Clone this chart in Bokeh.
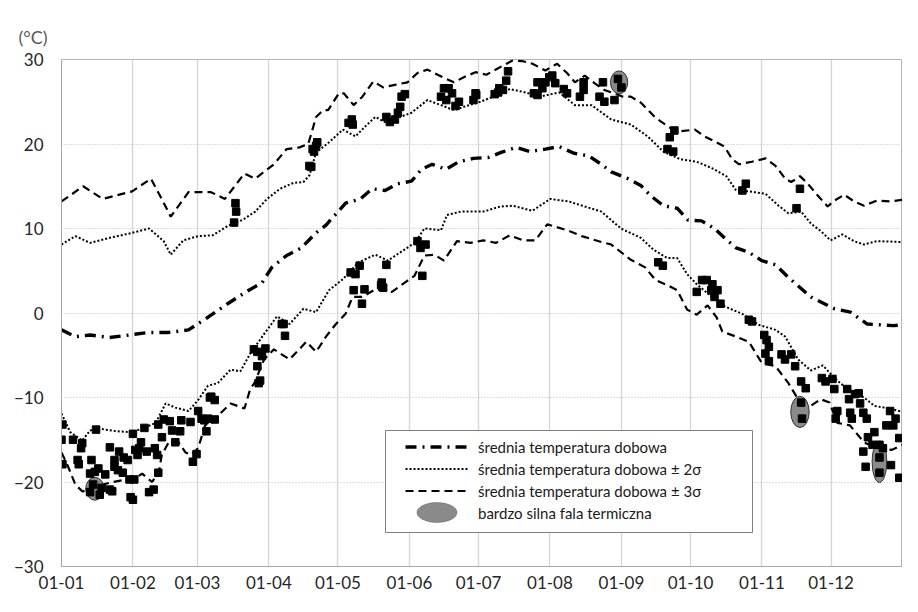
import numpy as np
from bokeh.plotting import figure
from bokeh.models import (Range1d, FixedTicker, Legend, LegendItem,
                          BoxAnnotation, PolyAnnotation)
from bokeh.embed import file_html
from bokeh.resources import INLINE

FONT = "Lato"

# ---- axis ticks ----
month_starts = [0, 31, 59, 90, 120, 151, 181, 212, 243, 273, 304, 334]
month_labels = ["01-01", "01-02", "01-03", "01-04", "01-05", "01-06",
                "01-07", "01-08", "01-09", "01-10", "01-11", "01-12"]
y_ticks = [-30, -20, -10, 0, 10, 20, 30]

# ---- mean daily temperature ----
mean_day = [0, 6.0, 12.4, 20.9, 29.4, 38.0, 46.5, 55.1, 63.6, 72.1, 80.7, 87.1, 91.3, 97.7, 104.1,
            110.5, 114.8, 123.3, 129.7, 134.8, 140.4, 145.9, 151.9, 156.2, 160.9, 166.9, 172.4,
            178.8, 185.2, 190.8, 197.2, 203.2, 210.0, 216.0, 222.4, 228.8, 234.3, 238.6, 245.8,
            251.4, 255.6, 261.2, 267.2, 271.9, 277.8, 283.4, 287.7, 292.8, 298.3, 303.9, 309.9,
            315.5, 325.2, 335.5, 342.4, 349.6, 361.1, 365]
mean_val = [-2.0, -2.8, -2.6, -2.9, -2.6, -2.3, -2.3, -2.0, -0.5, 1.1, 2.6, 3.6, 5.4, 6.8, 7.7,
            9.5, 10.4, 13.0, 13.5, 14.7, 14.5, 15.3, 15.6, 17.0, 17.6, 17.0, 17.9,
            18.3, 18.4, 19.0, 19.6, 19.1, 19.4, 19.7, 18.9, 18.6, 17.6, 16.7, 15.9,
            15.1, 13.9, 12.7, 12.4, 11.0, 10.9, 10.0, 8.9, 7.7, 7.2, 6.2, 5.7,
            4.2, 1.9, 0.5, 0.1, -1.3, -1.5, -1.4]

# ---- mean + 2 sigma ----
up2_day = [0, 6.0, 12.4, 20.9, 29.4, 38.0, 44.4, 47.4, 52.9, 59.3, 65.7, 72.1, 78.5, 84.1, 89.2,
           94.8, 100.7, 105.0, 107.6, 110.5, 116.1, 122.1, 127.6, 131.9, 136.2, 140.4, 146.0,
           151.9, 158.8, 164.7, 170.3, 175.8, 181.8, 187.4, 194.6, 201.5, 207.4, 216.0, 222.8,
           230.0, 238.6, 247.1, 254.4, 261.2, 268.5, 275.7, 282.6, 288.5, 292.8, 298.3, 305.6,
           311.2, 315.5, 321.0, 325.2, 329.5, 333.8, 338.9, 344.0, 348.3, 353.8, 365]
up2_val = [8.1, 9.1, 8.3, 8.9, 9.4, 10.0, 8.5, 6.9, 8.6, 9.1, 9.2, 10.3, 11.0, 12.0, 13.5,
           14.7, 15.4, 15.5, 16.3, 19.0, 20.2, 21.7, 20.9, 22.1, 23.2, 22.6, 23.1,
           23.7, 25.2, 24.6, 24.0, 24.5, 25.0, 25.6, 26.5, 26.1, 25.6, 26.1, 24.6,
           24.6, 22.9, 22.3, 20.9, 19.1, 18.2, 17.9, 17.1, 16.2, 14.5, 14.4, 14.1,
           12.7, 11.8, 12.0, 10.6, 9.7, 8.6, 9.3, 8.5, 8.1, 8.5, 8.4]

# ---- mean - 2 sigma ----
lo2_day = [0, 3.8, 9.0, 12.4, 16.6, 23.9, 30.7, 36.7, 40.9, 45.2, 49.4, 55.1, 59.3, 63.6, 67.8,
           73.4, 77.6, 81.9, 87.9, 93.5, 99.0, 105.0, 110.5, 116.1, 122.1, 128.9, 136.2, 141.7,
           147.7, 153.3, 157.5, 164.7, 167.3, 173.3, 183.1, 190.4, 195.9, 204.4, 212.1, 220.2,
           227.1, 234.3, 242.8, 251.4, 256.9, 262.9, 267.2, 271.5, 275.7, 286.8, 295.4, 302.6,
           309.9, 314.1, 319.7, 325.2, 330.4, 335.5, 341.0, 348.3, 352.9, 359.4, 365]
lo2_val = [-11.9, -14.1, -15.1, -13.9, -13.7, -14.0, -14.1, -13.5, -13.0, -10.7, -11.2, -11.6, -10.3, -8.6, -8.3,
           -6.7, -6.9, -4.8, -2.5, -0.4, -1.3, 0.5, 0.1, 2.7, 4.0, 6.0, 6.9, 6.2,
           7.3, 8.3, 10.0, 9.8, 11.6, 12.0, 12.0, 12.6, 12.7, 12.1, 13.5, 13.2,
           12.6, 12.0, 10.0, 8.9, 7.5, 6.5, 6.5, 4.6, 3.4, 0.9, -0.1, -1.4,
           -2.0, -2.8, -5.5, -6.8, -6.2, -7.7, -9.0, -10.0, -11.0, -11.3, -11.7]

# ---- mean + 3 sigma ----
up3_day = [0, 9.4, 17.9, 30.7, 38.8, 43.5, 47.4, 55.1, 64.9, 70.9, 79.4, 84.1, 92.2, 97.7, 103.3,
           107.1, 110.5, 113.5, 115.7, 120.4, 122.5, 126.8, 130.6, 135.3, 139.6, 144.7, 150.2,
           154.5, 158.8, 163.9, 170.3, 174.6, 179.7, 184.4, 190.4, 195.9, 200.2, 204.4, 210.0,
           215.1, 219.4, 222.8, 227.1, 231.3, 235.6, 243.7, 247.1, 251.4, 257.8, 264.2, 268.5,
           274.9, 279.1, 284.3, 287.7, 291.1, 294.1, 299.6, 305.6, 309.9, 314.1, 316.7, 320.5,
           323.9, 328.2, 332.5, 335.5, 339.7, 344.0, 348.3, 353.8, 359.4, 365]
up3_val = [13.2, 15.0, 13.5, 14.4, 15.9, 13.5, 11.4, 14.3, 14.3, 13.5, 16.5, 15.9, 17.6, 19.4, 19.6,
           20.0, 23.2, 24.0, 24.0, 26.0, 26.0, 24.6, 25.6, 27.4, 26.7, 27.0, 27.3,
           28.4, 28.8, 28.1, 27.3, 27.9, 28.5, 28.2, 29.1, 29.9, 29.8, 29.5, 28.7,
           29.5, 28.4, 27.3, 28.1, 27.2, 26.4, 25.6, 25.6, 24.9, 23.1, 21.9, 21.5,
           21.7, 20.9, 20.2, 19.7, 18.2, 17.6, 17.9, 18.3, 17.4, 15.9, 15.5, 16.2,
           15.3, 13.9, 12.6, 13.3, 14.0, 13.2, 12.7, 13.3, 13.2, 13.4]

# ---- mean - 3 sigma ----
lo3_day = [0, 2.6, 6.0, 9.0, 13.2, 17.9, 22.2, 28.2, 32.4, 35.0, 39.3, 42.3, 43.5, 46.5, 50.8,
           53.8, 56.3, 59.3, 62.3, 66.6, 73.4, 79.4, 81.9, 83.7, 87.9, 92.2, 99.0, 106.3, 110.5,
           114.8, 119.1, 123.3, 126.3, 130.6, 136.2, 143.4, 149.0, 153.2, 157.5, 161.8, 166.0,
           171.6, 177.6, 183.1, 188.6, 194.6, 200.2, 205.7, 210.8, 219.4, 225.8, 234.3, 238.6,
           247.1, 253.3, 257.8, 262.9, 267.2, 271.5, 275.7, 280.4, 284.3, 286.8, 292.8, 298.3,
           303.9, 309.9, 315.5, 318.8, 325.2, 329.5, 333.3, 336.7, 342.2, 348.3, 353.8, 360.2, 365]
lo3_val = [-16.5, -18.0, -20.3, -21.1, -21.0, -20.3, -20.0, -19.7, -19.5, -19.0, -20.0, -18.8, -16.8, -15.3, -15.3,
           -16.5, -16.8, -16.0, -13.3, -12.5, -10.7, -11.3, -9.0, -8.3, -5.5, -4.3, -5.5, -3.4, -4.6,
           -2.8, -1.3, -0.1, 1.9, 1.9, 2.8, 2.5, 3.6, 4.4, 6.8, 6.9, 6.2,
           8.5, 8.3, 8.6, 8.3, 9.2, 8.6, 8.6, 10.5, 9.8, 9.1, 8.4, 8.1,
           6.3, 5.4, 3.9, 3.3, 2.7, 0.4, -0.2, 0.9, -0.5, -2.2, -2.8, -3.4,
           -5.9, -6.3, -8.3, -9.8, -11.0, -10.2, -10.6, -13.0, -13.3, -15.3, -16.0, -16.2, -15.6]

# ---- extreme daily values (squares) ----
ext_day = [0.4, 0, 0.4, 5, 7, 7.5, 9, 8.5, 13, 15, 12.4, 14.5, 16, 13.7, 12.4, 16.6, 17.4, 19, 21, 22,
           21, 23, 23, 24.5, 25, 26.6, 27, 28.7, 29.5, 31, 30, 31, 31.6, 32, 33.7, 33, 34.5, 36, 37, 38,
           40, 40.5, 41.5, 42, 42, 43.6, 44.4, 47, 48, 49.4, 51.5, 52, 56, 57, 58.6, 59.3, 62, 62.9, 65, 66.5,
           66.5, 60.8, 63.6, 64.4,
           74.9, 75.5, 75.8,
           83.5, 85, 88.5, 87, 85, 85.6, 86.2, 95.6, 96.4, 97,
           107.6, 108.4, 109, 109.6, 111, 110.5,
           124.6, 126, 126.4,
           125.5, 127.6, 129.4, 126.8, 131.5, 130.4,
           139, 138.7, 139.6, 141,
           141, 142.5, 144.7, 146, 147, 147.6, 149,
           154.5, 155.8, 158, 156.6,
           164.7, 166, 168, 169.5, 167, 171, 172.5,
           178.8, 180, 179.7,
           188, 189.5, 190, 191.6, 193, 193.8,
           205, 206.6, 206.6, 208.7, 210, 211.7, 213, 214.3,
           218, 219.4, 225, 226.6, 226.6,
           235, 233.5, 235.6, 240, 241.5, 243,
           266, 264, 263, 265.5,
           297, 295.5, 320.5, 319,
           259, 261,
           275.7, 278, 280, 282.5, 282, 284.7, 283.4, 286,
           298.3, 299.7,
           305, 306, 307, 305.5, 307, 312.5, 314, 318.4, 316.7,
           321, 323, 321, 321.4,
           330, 331.6, 334.6, 335.4, 336.7, 336,
           341, 341.8, 342.3, 343, 344.4, 346, 346.6, 348, 349.5, 350, 352.8, 352, 349, 348,
           355, 355, 355, 356.5, 359.6, 358, 361, 362, 360, 363.6, 363.6]
ext_val = [-13.2, -15.0, -17.9, -15.0, -17.4, -17.9, -15.4, -16.0, -17.4, -13.8, -19.0, -18.8, -18.4, -20.3, -21.2, -21.5, -20.7, -19.1, -20.9, -21.1,
           -15.9, -17.4, -18.2, -18.6, -16.4, -18.9, -17.1, -17.4, -19.7, -14.3, -21.8, -22.1, -19.7, -16.2, -16.0, -16.8, -15.3, -13.6, -16.4, -21.2,
           -20.9, -16.0, -16.8, -18.9, -13.2, -14.7, -12.6, -12.8, -13.9, -15.3, -14.0, -12.7, -12.9, -17.6, -16.7, -11.6, -12.7, -14.0, -9.9, -10.3,
           -12.6, -12.5, -12.5, -10.0,
           10.7, 13.0, 12.0,
           -4.3, -4.6, -4.2, -5.1, -6.3, -8.3, -8.0, -1.3, -1.3, -2.7,
           17.4, 17.3, 19.4, 19.1, 20.2, 19.8,
           22.5, 22.9, 22.3,
           4.8, 4.6, 5.6, 2.7, 2.8, 1.1,
           3.6, 3.3, 3.0, 5.7,
           23.2, 22.6, 22.9, 23.7, 24.4, 25.6, 25.9,
           8.5, 7.7, 8.1, 4.4,
           25.6, 26.6, 26.6, 26.0, 25.2, 24.5, 25.0,
           25.2, 25.8, 26.0,
           25.9, 26.1, 26.6, 26.4, 27.5, 28.6,
           26.0, 25.8, 27.3, 26.6, 27.3, 27.9, 28.1, 27.2,
           26.5, 26.0, 25.6, 27.3, 26.4,
           27.3, 25.6, 25.0, 25.2, 27.7, 26.7,
           21.6, 20.8, 19.4, 19.1,
           15.3, 14.5, 14.7, 12.4,
           6.0, 5.6,
           2.5, 3.9, 3.9, 3.4, 2.7, 2.7, 1.9, 1.1,
           -0.8, -1.0,
           -2.6, -3.2, -4.0, -4.8, -5.7, -4.9, -5.5, -6.3, -4.9,
           -8.1, -8.9, -10.6, -12.5,
           -7.7, -8.1, -7.8, -9.0, -11.6, -12.5,
           -9.0, -10.2, -11.8, -12.5, -9.6, -9.5, -10.7, -11.8, -12.5, -14.7, -14.1, -15.6, -18.2, -16.4,
           -15.6, -17.1, -18.9, -16.0, -11.6, -13.3, -13.3, -12.5, -18.0, -14.8, -19.5]

# ---- very strong thermal waves (ellipses) ----
wave_day = [14.5, 242, 320.5, 355]
wave_val = [-20.8, 27.3, -11.7, -17.6]
wave_w = [8, 7.5, 8, 6.4]     # days
wave_h = [2.7, 2.7, 3.7, 4.9]  # degC

legend_labels = ["średnia temperatura dobowa",
                 "średnia temperatura dobowa ± 2σ",
                 "średnia temperatura dobowa ± 3σ",
                 "bardzo silna fala termiczna"]

W, H = 902, 596
p = figure(width=W, height=H, output_backend="svg", toolbar_location=None,
           x_range=Range1d(0, 365), y_range=Range1d(-30, 30),
           min_border_left=61, min_border_right=0, min_border_top=59, min_border_bottom=30)
p.background_fill_color = "white"
p.border_fill_color = "white"
p.outline_line_color = "#b3b3b3"
p.outline_line_width = 1

# unit label as a left-aligned title above the frame
p.title.text = "(°C)"
p.title.align = "left"
p.title.offset = -43
p.title.standoff = 23
p.title.text_font = FONT
p.title.text_font_size = "18px"
p.title.text_font_style = "normal"
p.title.text_color = "#595959"

# grid
p.xgrid.ticker = FixedTicker(ticks=month_starts)
p.xgrid.grid_line_color = "#d4d4d4"
p.xgrid.grid_line_width = 1.3
p.ygrid.ticker = FixedTicker(ticks=y_ticks)
p.ygrid.grid_line_color = "#bdbdbd"
p.ygrid.grid_line_dash = "1 2"
p.ygrid.grid_line_width = 1

# axes
p.xaxis.ticker = FixedTicker(ticks=month_starts)
p.xaxis.major_label_overrides = {d: l for d, l in zip(month_starts, month_labels)}
p.yaxis.ticker = FixedTicker(ticks=y_ticks)
for ax in (p.xaxis[0], p.yaxis[0]):
    ax.axis_line_color = "#a6a6a6"
    ax.major_tick_line_color = None
    ax.minor_tick_line_color = None
    ax.major_tick_out = 0
    ax.major_tick_in = 0
    ax.major_label_text_font = FONT
    ax.major_label_text_font_size = "17px"
    ax.major_label_text_color = "#262626"
p.xaxis.major_label_standoff = 9
p.yaxis.major_label_standoff = 18

# lines
r_mean = p.line(mean_day, mean_val, line_color="black", line_width=3.4, line_dash="11 6 2 6")
r_up2 = p.line(up2_day, up2_val, line_color="black", line_width=2, line_dash="2 2")
r_lo2 = p.line(lo2_day, lo2_val, line_color="black", line_width=2, line_dash="2 2")
r_up3 = p.line(up3_day, up3_val, line_color="black", line_width=2.2, line_dash="8 5")
r_lo3 = p.line(lo3_day, lo3_val, line_color="black", line_width=2.2, line_dash="8 5")

# waves
r_wave = p.ellipse(x=wave_day, y=wave_val, width=wave_w, height=wave_h,
                   fill_color="#8a8a8a", line_color="#333333", line_width=1)
# extremes
p.scatter(ext_day, ext_val, marker="square", size=7.5, fill_color="black", line_color="black")

# legend box (screen units, relative to the plot frame)
legend_box = BoxAnnotation(left=324, right=691, bottom=34, top=136,
                           left_units="screen", right_units="screen",
                           bottom_units="screen", top_units="screen",
                           fill_color="white", fill_alpha=1,
                           line_color="#7f7f7f", line_width=1, line_alpha=1)
p.add_layout(legend_box)

# invisible legend proxy for the ellipse entry (no data position)
r_wave_proxy = p.ellipse(x=[np.nan], y=[np.nan], width=40, height=20,
                         width_units="screen", height_units="screen",
                         fill_alpha=0, line_alpha=0)

legend = Legend(items=[
    LegendItem(label=legend_labels[0], renderers=[r_mean]),
    LegendItem(label=legend_labels[1], renderers=[r_up2]),
    LegendItem(label=legend_labels[2], renderers=[r_up3]),
    LegendItem(label=legend_labels[3], renderers=[r_wave_proxy]),
], location=(344, 44))
legend.label_text_font = FONT
legend.label_text_font_size = "15px"
legend.label_text_color = "#1a1a1a"
legend.glyph_width = 63
legend.glyph_height = 19
legend.label_height = 19
legend.label_standoff = 10
legend.spacing = 3
legend.padding = 0
legend.margin = 0
legend.border_line_color = None
legend.background_fill_alpha = 0
p.add_layout(legend)

# ellipse symbol for the last legend entry
t = np.linspace(0, 2 * np.pi, 60)
sym = PolyAnnotation(xs=list(375.5 + 20 * np.cos(t)), ys=list(54 + 10 * np.sin(t)),
                     xs_units="screen", ys_units="screen",
                     fill_color="#8a8a8a", fill_alpha=1, line_color="#333333", line_width=1)
p.add_layout(sym)

open("out.html", "w").write(file_html(p, INLINE))
